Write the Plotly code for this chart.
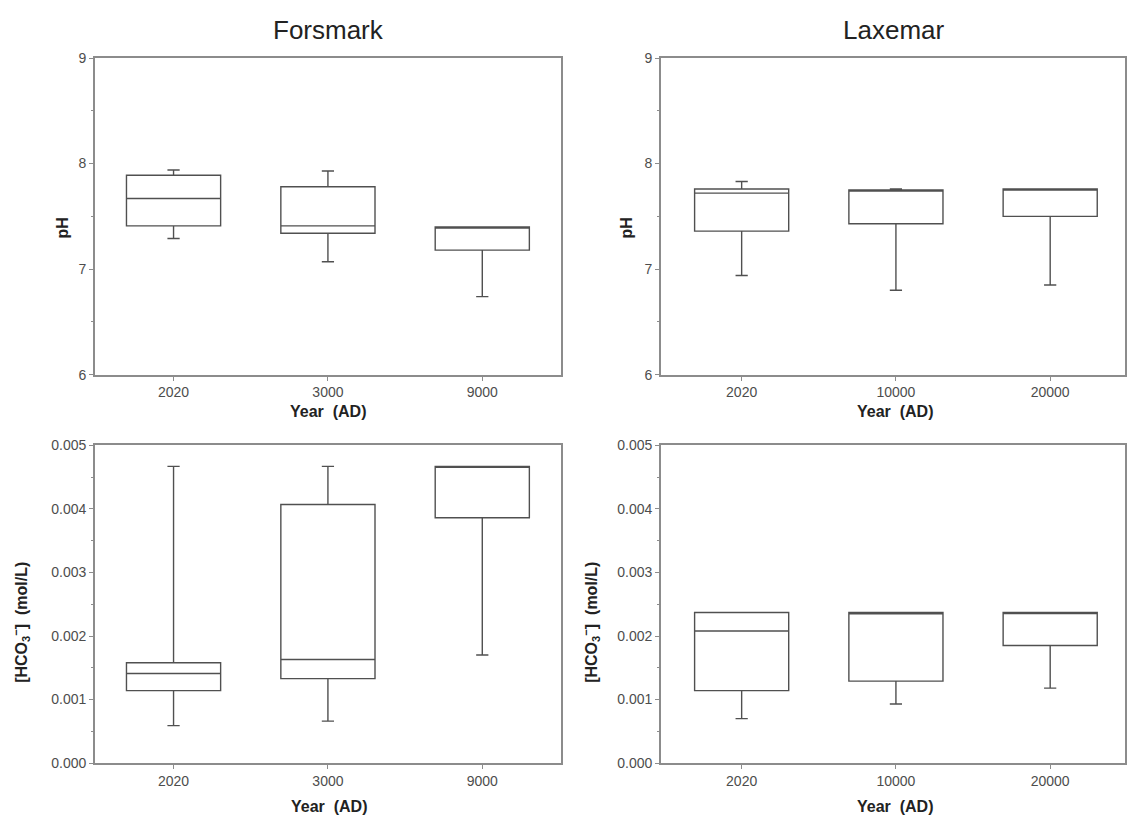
import plotly.graph_objects as go

W, H = 1127, 827

# ---------------- data ----------------
forsmark_years = ["2020", "3000", "9000"]
laxemar_years = ["2020", "10000", "20000"]

# Forsmark pH
f_ph_low = [7.29, 7.07, 6.74]
f_ph_q1 = [7.41, 7.34, 7.18]
f_ph_med = [7.67, 7.41, 7.39]
f_ph_q3 = [7.89, 7.78, 7.40]
f_ph_high = [7.94, 7.93, 7.40]

# Laxemar pH
l_ph_low = [6.94, 6.80, 6.85]
l_ph_q1 = [7.36, 7.43, 7.50]
l_ph_med = [7.72, 7.74, 7.76]
l_ph_q3 = [7.76, 7.75, 7.76]
l_ph_high = [7.83, 7.76, 7.76]

# Forsmark HCO3- (mol/L)
f_hco_low = [0.00059, 0.00066, 0.00170]
f_hco_q1 = [0.00114, 0.00133, 0.00386]
f_hco_med = [0.00141, 0.00163, 0.00466]
f_hco_q3 = [0.00158, 0.00407, 0.00467]
f_hco_high = [0.00467, 0.00467, 0.00467]

# Laxemar HCO3- (mol/L)
l_hco_low = [0.00070, 0.00093, 0.00118]
l_hco_q1 = [0.00114, 0.00129, 0.00185]
l_hco_med = [0.00208, 0.00235, 0.00237]
l_hco_q3 = [0.00237, 0.00237, 0.00237]
l_hco_high = [0.00237, 0.00237, 0.00237]

# ---------------- styling ----------------
FONT = "Liberation Sans, Arial, sans-serif"
BOXLINE = "#505050"
AXCOL = "#8c8c8c"
TICKCOL = "#4d4d4d"
TICKSIZE = 14

def px_x(p):
    return p / W

def px_y(p):
    return 1 - p / H

fig = go.Figure()

def add_box(cats, low, q1, med, q3, high, xa, ya):
    fig.add_trace(go.Box(
        x=cats, lowerfence=low, q1=q1, median=med, q3=q3, upperfence=high,
        xaxis=xa, yaxis=ya, width=0.61, whiskerwidth=0.13,
        fillcolor="white", line=dict(color=BOXLINE, width=1.4),
        boxpoints=False, showlegend=False, hoverinfo="skip",
    ))

add_box(forsmark_years, f_ph_low, f_ph_q1, f_ph_med, f_ph_q3, f_ph_high, "x", "y")
add_box(laxemar_years, l_ph_low, l_ph_q1, l_ph_med, l_ph_q3, l_ph_high, "x2", "y2")
add_box(forsmark_years, f_hco_low, f_hco_q1, f_hco_med, f_hco_q3, f_hco_high, "x3", "y3")
add_box(laxemar_years, l_hco_low, l_hco_q1, l_hco_med, l_hco_q3, l_hco_high, "x4", "y4")

def xaxis(dom, anchor, rng):
    return dict(
        domain=dom, anchor=anchor, type="category", range=rng,
        showline=True, linecolor=AXCOL, linewidth=1.5, mirror=True,
        ticks="outside", ticklen=4, tickcolor=AXCOL, tickwidth=1,
        tickfont=dict(family=FONT, size=TICKSIZE, color=TICKCOL),
        showgrid=False, zeroline=False, fixedrange=True,
    )

def yaxis(dom, anchor, rng, dtick, fmt, minor_dtick):
    return dict(
        domain=dom, anchor=anchor, range=rng, dtick=dtick, tick0=0,
        tickformat=fmt,
        showline=True, linecolor=AXCOL, linewidth=1.5, mirror=True,
        ticks="outside", ticklen=4, tickcolor=AXCOL, tickwidth=1,
        minor=dict(dtick=minor_dtick, ticks="outside", ticklen=2,
                   tickcolor=AXCOL, showgrid=False),
        tickfont=dict(family=FONT, size=TICKSIZE, color=TICKCOL),
        showgrid=False, zeroline=False, fixedrange=True,
    )

top_dom = [px_y(374), px_y(51)]
bot_dom = [px_y(770), px_y(446)]
left_dom = [px_x(95), px_x(562)]
right_dom = [px_x(662), 1.0]

rng_left = [-0.51, 2.51]
rng_right = [-0.524, 2.485]

fig.update_layout(
    width=W, height=H,
    margin=dict(l=0, r=0, t=0, b=0),
    paper_bgcolor="white", plot_bgcolor="white",
    font=dict(family=FONT, color=TICKCOL),
    showlegend=False,
    xaxis=xaxis(left_dom, "y", rng_left),
    yaxis=yaxis(top_dom, "x", [6, 9], 1, "d", 0.5),
    xaxis2=xaxis(right_dom, "y2", rng_right),
    yaxis2=yaxis(top_dom, "x2", [6, 9], 1, "d", 0.5),
    xaxis3=xaxis(left_dom, "y3", rng_left),
    yaxis3=yaxis(bot_dom, "x3", [0, 0.005], 0.001, ".3f", 0.0005),
    xaxis4=xaxis(right_dom, "y4", rng_right),
    yaxis4=yaxis(bot_dom, "x4", [0, 0.005], 0.001, ".3f", 0.0005),
)

def ann(text, x, y, size, bold=False, angle=0, color="#222222"):
    fig.add_annotation(
        text=f"<b>{text}</b>" if bold else text,
        x=px_x(x), y=px_y(y), xref="paper", yref="paper",
        showarrow=False, textangle=angle, xanchor="center", yanchor="middle",
        font=dict(family=FONT, size=size, color=color),
    )

# panel titles
ann("Forsmark", 329, 22, 26)
ann("Laxemar", 895, 22, 26)

# x-axis titles
ann("Year  (AD)", 329, 411, 16, bold=True)
ann("Year  (AD)", 897, 411, 16, bold=True)
ann("Year  (AD)", 330, 814, 16, bold=True)
ann("Year  (AD)", 897, 814, 16, bold=True)

# y-axis titles
ann("pH", 63, 224, 16, bold=True, angle=-90)
ann("pH", 628, 224, 16, bold=True, angle=-90)
hco = "[HCO<sub>3</sub><sup>−</sup>]  (mol/L)"
ann(hco, 21, 626, 16, bold=True, angle=-90)
ann(hco, 592, 626, 16, bold=True, angle=-90)

fig.write_html("out.html")
